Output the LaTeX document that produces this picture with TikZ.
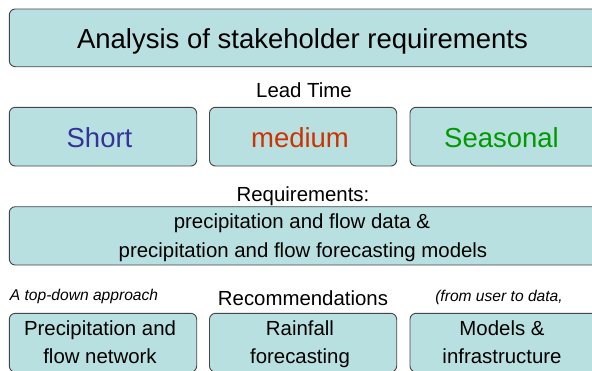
\documentclass[tikz,border=0pt]{standalone}
\usepackage{fontspec}
\setmainfont{Liberation Sans}
\definecolor{boxfill}{HTML}{B9E0E0}
\definecolor{boxline}{HTML}{454545}
\definecolor{shortc}{HTML}{333399}
\definecolor{mediumc}{HTML}{CC3300}
\definecolor{seasonc}{HTML}{009900}
\tikzset{
  panel/.style={draw=boxline, fill=boxfill, line width=0.9pt, rounded corners=6pt,
    inner sep=0pt, outer sep=0pt, rectangle},
  txt/.style={inner sep=0pt, anchor=base, text=black},
  big/.style={font=\fontsize{27.5}{33}\selectfont},
  mid/.style={font=\fontsize{20.4}{24}\selectfont},
  small/.style={font=\fontsize{15.6}{18}\selectfont\itshape},
}
\begin{document}
\begin{tikzpicture}[x=1pt,y=-1pt]
\useasboundingbox (0,0) rectangle (592,370);
\clip (0,0) rectangle (592,370);
\fill[white] (0,0) rectangle (592,370);

% title panel
\node[panel, minimum width=588.7pt, minimum height=57.7pt] (title) at (303.65,37.85) {};
\node[txt, big] (titletxt) at (302.5,48.3) {Analysis of stakeholder requirements};

% lead time row
\node[txt, mid] (lead) at (304,97.7) {Lead Time};
\node[panel, minimum width=187.4pt, minimum height=58.7pt] (short) at (103,136.65) {};
\node[panel, minimum width=187.2pt, minimum height=58.7pt] (medium) at (303.1,136.65) {};
\node[panel, minimum width=188pt, minimum height=58.7pt] (seasonal) at (504,136.65) {};
\node[txt, big, text=shortc] (shorttxt) at (99.5,147) {Short};
\node[txt, big, text=mediumc] (mediumtxt) at (300,147) {medium};
\node[txt, big, text=seasonc] (seasontxt) at (501.5,147) {Seasonal};

% requirements
\node[txt, mid] (reqlabel) at (303,201.7) {Requirements:};
\node[panel, minimum width=588.7pt, minimum height=58.3pt] (req) at (303.65,235.85) {};
\node[txt, mid] (reqa) at (302,228.3) {precipitation and flow data \&};
\node[txt, mid] (reqb) at (303,257.6) {precipitation and flow forecasting models};

% recommendations
\node[txt, small] (topdown) at (84,300) {A top-down approach};
\node[txt, mid] (recs) at (303,305) {Recommendations};
\node[txt, small] (fromuser) at (499,301) {(from user to data,};
\node[panel, minimum width=187.4pt, minimum height=58.7pt] (net) at (103,342.65) {};
\node[panel, minimum width=187.2pt, minimum height=58.7pt] (rain) at (303.1,342.65) {};
\node[panel, minimum width=188pt, minimum height=58.7pt] (models) at (504,342.65) {};
\node[txt, mid] (neta) at (100,335) {Precipitation and};
\node[txt, mid] (netb) at (100,363) {flow network};
\node[txt, mid] (raina) at (300,335) {Rainfall};
\node[txt, mid] (rainb) at (300,363) {forecasting};
\node[txt, mid] (modelsa) at (502,335) {Models \&};
\node[txt, mid] (modelsb) at (502,363) {infrastructure};
\end{tikzpicture}
\end{document}
